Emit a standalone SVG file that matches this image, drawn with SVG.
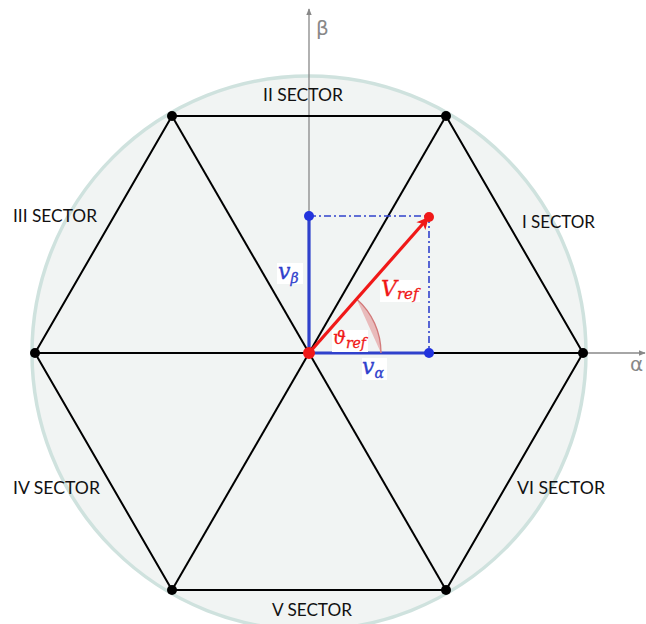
<svg xmlns="http://www.w3.org/2000/svg" width="646" height="624" viewBox="0 0 646 624">
<defs>
<style>
.sector{font-family:Lato,"Open Sans","Liberation Sans",sans-serif;font-size:18px;fill:#111}
.hex{stroke:#000;stroke-width:2;fill:none}
.vtx{fill:#000}
.axis{stroke:#888;stroke-width:1.3;fill:none}
.axlbl{font-family:"DejaVu Sans","Liberation Sans",sans-serif;font-size:20px;fill:#888}
.blue{stroke:#3041cc;stroke-width:3.2;fill:none}
.bdash{stroke:#3041cc;stroke-width:1.6;fill:none;stroke-dasharray:7 3 2 3}
.math{font-family:"DejaVu Serif","Liberation Serif",serif;font-style:italic;stroke-width:0.3}
.lblbg{fill:#fff}
</style>
<marker id="ax" viewBox="0 0 10 10" refX="9" refY="5" markerWidth="7" markerHeight="7" orient="auto" markerUnits="userSpaceOnUse">
<path d="M0,1 L10,5 L0,9 Z" fill="#888"/>
</marker>
<marker id="redhead" viewBox="0 0 10 10" refX="9" refY="5" markerWidth="16" markerHeight="12" orient="auto" markerUnits="userSpaceOnUse">
<path d="M0,0 L10,5 L0,10 L2.5,5 Z" fill="#f01818"/>
</marker>
</defs>
<rect width="646" height="624" fill="#fff"/>
<g id="disk">
<circle cx="309" cy="353" r="277" fill="#f1f4f3" stroke="#cfe2de" stroke-width="3.5"/>
</g>
<g id="axes">
<line class="axis" x1="309" y1="353" x2="309" y2="9" marker-end="url(#ax)"/>
<line class="axis" x1="309" y1="353" x2="645" y2="353" marker-end="url(#ax)"/>
<text class="axlbl" x="316" y="35">β</text>
<text class="axlbl" x="630" y="371">α</text>
</g>
<g id="connectors">
<polygon class="hex" points="35,353 172,116 446,116 583,353 446,590 172,590"/>
<line class="hex" x1="35" y1="353" x2="583" y2="353"/>
<line class="hex" x1="172" y1="116" x2="446" y2="590"/>
<line class="hex" x1="446" y1="116" x2="172" y2="590"/>
</g>
<g id="vertices">
<circle class="vtx" cx="35" cy="353" r="5"/>
<circle class="vtx" cx="172" cy="116" r="5"/>
<circle class="vtx" cx="446" cy="116" r="5"/>
<circle class="vtx" cx="583" cy="353" r="5"/>
<circle class="vtx" cx="446" cy="590" r="5"/>
<circle class="vtx" cx="172" cy="590" r="5"/>
</g>
<g id="sector-labels">
<text class="sector" x="263" y="101" textLength="80" lengthAdjust="spacingAndGlyphs">II SECTOR</text>
<text class="sector" x="522" y="228" textLength="73" lengthAdjust="spacingAndGlyphs">I SECTOR</text>
<text class="sector" x="13" y="222" textLength="84" lengthAdjust="spacingAndGlyphs">III SECTOR</text>
<text class="sector" x="13" y="494" textLength="87" lengthAdjust="spacingAndGlyphs">IV SECTOR</text>
<text class="sector" x="517" y="494" textLength="88" lengthAdjust="spacingAndGlyphs">VI SECTOR</text>
<text class="sector" x="272" y="616" textLength="80" lengthAdjust="spacingAndGlyphs">V SECTOR</text>
</g>
<g id="components">
<path class="bdash" d="M309,216 L429,216 L429,353"/>
<line class="blue" x1="309" y1="353" x2="309" y2="216"/>
<line class="blue" x1="309" y1="353" x2="429" y2="353"/>
<circle cx="309" cy="216" r="5" fill="#2233dd"/>
<circle cx="429" cy="353" r="5" fill="#2233dd"/>
</g>
<g id="angle">
<path d="M381,353 A72,72 0 0 0 356.6,299 Z" fill="#e6a3a3" fill-opacity="0.7" stroke="none"/>
<path d="M381,353 A72,72 0 0 0 356.6,299" fill="none" stroke="#d27a7a" stroke-width="1.3"/>
</g>
<g id="vref">
<line x1="309" y1="353" x2="428" y2="218" stroke="#f01818" stroke-width="3.2" marker-end="url(#redhead)"/>
<circle cx="429" cy="217" r="5" fill="#f01818"/>
<circle cx="309" cy="353" r="6" fill="#f01818"/>
</g>
<g id="math-labels">
<rect class="lblbg" x="277" y="263" width="26" height="21"/>
<text class="math" x="278" y="279" fill="#3041cc" stroke="#3041cc" font-size="22">v<tspan font-size="14" dy="4">β</tspan></text>
<rect class="lblbg" x="362" y="358" width="25" height="22"/>
<text class="math" x="362" y="374" fill="#3041cc" stroke="#3041cc" font-size="22">v<tspan font-size="14" dy="4">α</tspan></text>
<rect class="lblbg" x="380" y="280" width="40" height="22"/>
<text class="math" x="381" y="296" fill="#f01818" stroke="#f01818" font-size="22">V<tspan font-size="15" dy="3">ref</tspan></text>
<rect class="lblbg" x="332" y="330" width="36" height="22"/>
<text class="math" x="333" y="344" fill="#f01818" stroke="#f01818" font-size="18">ϑ<tspan font-size="14" dy="4">ref</tspan></text>
</g>
</svg>
